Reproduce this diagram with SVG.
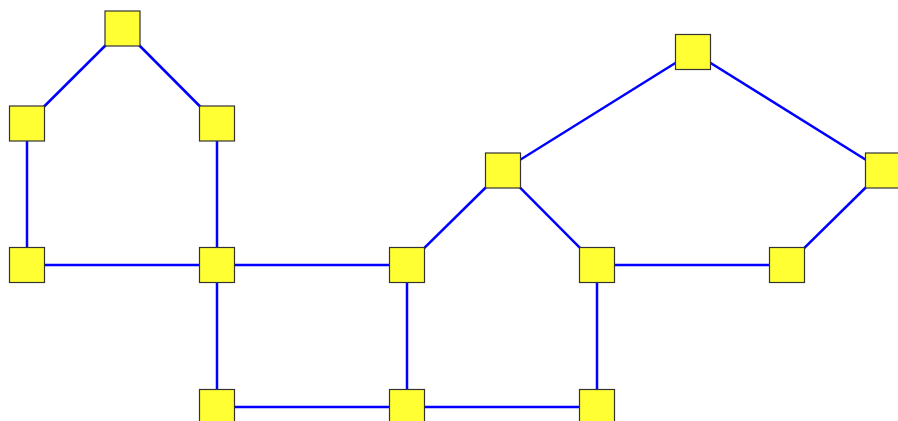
<svg xmlns="http://www.w3.org/2000/svg" width="898" height="421" viewBox="0 0 898 421">
<style>
.e{stroke:#0000ff;stroke-width:2.5;fill:none}
.n{fill:#ffff33;stroke:#333333;stroke-width:1.2}
</style>
<rect width="898" height="421" fill="#ffffff"/>
<g id="connectors">
<line class="e" x1="122.5" y1="28.5" x2="27" y2="123.5"/>
<line class="e" x1="122.5" y1="28.5" x2="217" y2="123.5"/>
<line class="e" x1="27" y1="123.5" x2="27" y2="265"/>
<line class="e" x1="217" y1="123.5" x2="217" y2="265"/>
<line class="e" x1="27" y1="265" x2="217" y2="265"/>
<line class="e" x1="217" y1="265" x2="407" y2="265"/>
<line class="e" x1="217" y1="265" x2="217" y2="407"/>
<line class="e" x1="217" y1="407" x2="407" y2="407"/>
<line class="e" x1="407" y1="407" x2="597" y2="407"/>
<line class="e" x1="407" y1="265" x2="407" y2="407"/>
<line class="e" x1="407" y1="265" x2="503" y2="170.5"/>
<line class="e" x1="503" y1="170.5" x2="693" y2="52"/>
<line class="e" x1="693" y1="52" x2="883" y2="170.5"/>
<line class="e" x1="503" y1="170.5" x2="597" y2="265"/>
<line class="e" x1="597" y1="265" x2="787" y2="265"/>
<line class="e" x1="787" y1="265" x2="883" y2="170.5"/>
<line class="e" x1="597" y1="265" x2="597" y2="407"/>
</g>
<g id="A"><rect class="n" x="105" y="11" width="35" height="35"/></g>
<g id="B"><rect class="n" x="9.5" y="106" width="35" height="35"/></g>
<g id="C"><rect class="n" x="199.5" y="106" width="35" height="35"/></g>
<g id="D"><rect class="n" x="9.5" y="247.5" width="35" height="35"/></g>
<g id="E"><rect class="n" x="199.5" y="247.5" width="35" height="35"/></g>
<g id="F"><rect class="n" x="389.5" y="247.5" width="35" height="35"/></g>
<g id="G"><rect class="n" x="485.5" y="153" width="35" height="35"/></g>
<g id="H"><rect class="n" x="675.5" y="34.5" width="35" height="35"/></g>
<g id="I"><rect class="n" x="865.5" y="153" width="35" height="35"/></g>
<g id="J"><rect class="n" x="579.5" y="247.5" width="35" height="35"/></g>
<g id="K"><rect class="n" x="769.5" y="247.5" width="35" height="35"/></g>
<g id="L"><rect class="n" x="199.5" y="389.5" width="35" height="35"/></g>
<g id="M"><rect class="n" x="389.5" y="389.5" width="35" height="35"/></g>
<g id="N"><rect class="n" x="579.5" y="389.5" width="35" height="35"/></g>
</svg>
